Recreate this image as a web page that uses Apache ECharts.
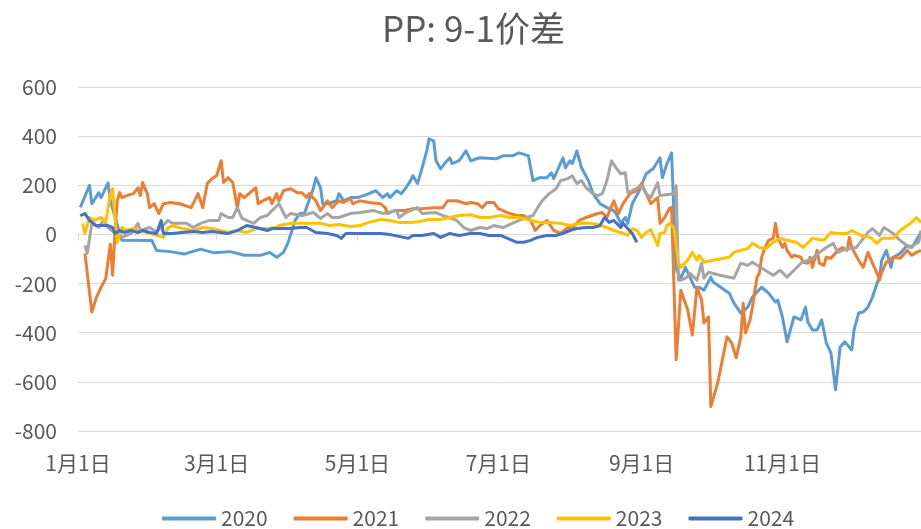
<!DOCTYPE html>
<html>
<head>
<meta charset="utf-8">
<title>PP: 9-1价差</title>
<script src="https://cdn.jsdelivr.net/npm/echarts@6/dist/echarts.min.js"></script>
<style>
  html, body { margin: 0; padding: 0; background: #fff; }
  #chart { width: 921px; height: 529px; }
</style>
</head>
<body>
<div id="chart"></div>
<script>
// ---------------------------------------------------
// Data (x = "MM-DD", y = spread)
// ---------------------------------------------------
const monthLengths = [31, 29, 31, 30, 31, 30, 31, 31, 30, 31, 30, 31];
const days = [];
monthLengths.forEach((len, m) => {
  for (let d = 1; d <= len; d++) {
    days.push(String(m + 1).padStart(2, "0") + "-" + String(d).padStart(2, "0"));
  }
});

const years = ["2020", "2021", "2022", "2023", "2024"];
const colors = ["#5B9BD5", "#ED7D31", "#A5A5A5", "#FFC000", "#4472C4"];

const s2020 = [
  ["01-02",110],["01-06",200],["01-07",125],["01-10",170],["01-11",150],["01-14",210],["01-15",137],["01-20",-24],
  ["02-02",-25],["02-04",-65],["02-10",-70],["02-16",-80],["02-23",-60],["02-29",-75],["03-07",-70],["03-13",-85],
  ["03-20",-85],["03-24",-73],["03-27",-93],["03-30",-73],["04-01",-32],["04-04",57],["04-06",85],["04-08",85],
  ["04-10",137],["04-12",190],["04-13",231],["04-15",190],["04-16",125],["04-18",125],["04-22",137],["04-23",166],
  ["04-25",137],["04-28",150],["05-01",150],["05-06",166],["05-09",178],["05-12",150],["05-14",166],["05-15",150],
  ["05-18",178],["05-20",166],["05-22",190],["05-24",219],["05-25",239],["05-27",207],["05-29",271],["05-31",340],
  ["06-01",389],["06-03",381],["06-04",300],["06-06",267],["06-08",292],["06-10",312],["06-11",288],["06-14",300],
  ["06-17",340],["06-19",300],["06-23",312],["06-30",308],["07-03",320],["07-07",320],["07-10",332],["07-14",320],
  ["07-16",219],["07-19",231],["07-22",231],["07-24",251],["07-25",227],["07-29",312],["07-30",271],["08-01",300],
  ["08-02",288],["08-04",340],["08-06",271],["08-09",219],["08-11",166],["08-14",125],["08-17",109],["08-20",97],
  ["08-21",85],["08-23",45],["08-25",69],["08-26",45],["08-28",125],["08-31",178],["09-03",247],["09-06",267],
  ["09-09",312],["09-10",231],["09-12",288],["09-14",332],["09-16",-140],["09-18",-180],["09-20",-134],["09-24",-215],
  ["09-26",-215],["09-28",-227],["10-01",-174],["10-02",-194],["10-09",-239],["10-11",-280],["10-14",-320],["10-17",-296],
  ["10-19",-255],["10-23",-215],["10-26",-239],["10-29",-275],["10-30",-267],["11-01",-336],["11-03",-437],["11-06",-336],
  ["11-09",-348],["11-11",-296],["11-12",-356],["11-14",-389],["11-16",-389],["11-18",-348],["11-20",-441],["11-22",-482],
  ["11-24",-632],["11-26",-458],["11-28",-437],["12-01",-470],["12-02",-389],["12-04",-320],["12-06",-316],["12-08",-296],
  ["12-10",-255],["12-12",-198],["12-13",-174],["12-14",-105],["12-16",-65],["12-18",-134],["12-19",-93],["12-22",-77],
  ["12-25",-45],["12-27",-53],["12-29",-24],["12-31",10]
];

const s2021 = [
  ["01-04",-77],["01-07",-316],["01-09",-255],["01-11",-215],["01-13",-180],["01-15",-40],["01-16",-166],["01-17",8],
  ["01-18",137],["01-19",170],["01-20",150],["01-22",158],["01-25",166],["01-27",190],["01-28",158],["01-29",211],
  ["01-31",166],["02-01",109],["02-03",125],["02-05",85],["02-07",125],["02-10",130],["02-14",125],["02-19",109],
  ["02-22",166],["02-24",109],["02-26",207],["02-28",227],["03-01",239],["03-03",300],["03-04",211],["03-06",231],
  ["03-08",211],["03-10",109],["03-11",166],["03-13",150],["03-15",166],["03-18",190],["03-19",125],["03-21",137],
  ["03-24",150],["03-25",125],["03-27",166],["03-28",137],["03-30",178],["04-02",186],["04-05",170],["04-07",170],
  ["04-09",150],["04-10",166],["04-13",137],["04-15",97],["04-18",137],["04-20",109],["04-23",137],["04-25",130],
  ["04-28",146],["04-29",125],["05-02",137],["05-06",130],["05-11",125],["05-13",109],["05-14",85],["05-17",97],
  ["05-21",97],["05-25",105],["05-29",105],["06-03",109],["06-07",109],["06-09",137],["06-13",137],["06-17",125],
  ["06-19",130],["06-22",125],["06-24",109],["06-26",130],["06-29",130],["07-01",105],["07-03",97],["07-06",85],
  ["07-09",77],["07-12",77],["07-15",57],["07-17",16],["07-19",36],["07-22",57],["07-25",16],["07-28",4],
  ["07-31",28],["08-02",24],["08-05",57],["08-08",69],["08-13",85],["08-15",89],["08-17",69],["08-20",137],
  ["08-22",85],["08-24",125],["08-27",166],["08-30",178],["09-01",207],["09-03",166],["09-05",125],["09-08",150],
  ["09-09",45],["09-11",69],["09-13",105],["09-14",110],["09-16",-510],["09-18",-227],["09-21",-308],["09-23",-409],
  ["09-25",-215],["09-27",-267],["09-28",-360],["09-30",-336],["10-01",-701],["10-04",-603],["10-06",-510],["10-08",-417],
  ["10-10",-441],["10-12",-502],["10-14",-417],["10-15",-280],["10-16",-401],["10-18",-348],["10-19",-296],["10-21",-174],
  ["10-22",-158],["10-23",-93],["10-24",-65],["10-26",-24],["10-28",-16],["10-29",45],["10-30",-12],["11-01",-53],
  ["11-02",-36],["11-03",-65],["11-05",-93],["11-06",-85],["11-09",-93],["11-10",-113],["11-12",-117],["11-13",-93],
  ["11-14",-134],["11-16",-65],["11-17",-117],["11-19",-126],["11-20",-93],["11-22",-97],["11-25",-65],["11-27",-53],
  ["11-29",-65],["11-30",-12],["12-01",-53],["12-04",-105],["12-06",-134],["12-08",-73],["12-10",-117],["12-12",-158],
  ["12-13",-186],["12-14",-154],["12-16",-113],["12-19",-93],["12-22",-97],["12-25",-65],["12-27",-85],["12-29",-73],
  ["12-31",-65]
];

const s2022 = [
  ["01-04",-45],["01-05",-77],["01-07",45],["01-10",28],["01-12",57],["01-14",28],["01-17",5],["01-20",-12],
  ["01-24",4],["01-27",45],["01-28",16],["02-01",28],["02-04",10],["02-09",57],["02-11",45],["02-17",45],
  ["02-20",28],["02-23",45],["02-27",57],["03-02",57],["03-03",85],["03-06",69],["03-08",69],["03-10",109],
  ["03-12",65],["03-14",57],["03-17",45],["03-20",69],["03-23",77],["03-25",97],["03-28",125],["03-31",69],
  ["04-02",85],["04-07",77],["04-12",89],["04-15",65],["04-18",85],["04-20",69],["04-23",69],["04-28",85],
  ["05-02",89],["05-08",97],["05-12",85],["05-18",97],["05-19",69],["05-22",89],["05-27",109],["05-29",85],
  ["06-04",89],["06-07",77],["06-13",57],["06-16",28],["06-19",16],["06-23",28],["06-26",24],["06-29",36],
  ["07-03",28],["07-07",45],["07-10",57],["07-13",69],["07-16",77],["07-18",109],["07-20",137],["07-23",166],
  ["07-26",186],["07-28",219],["07-31",227],["08-02",239],["08-04",207],["08-06",219],["08-08",190],["08-11",166],
  ["08-13",158],["08-15",166],["08-17",219],["08-19",300],["08-21",271],["08-23",247],["08-25",251],["08-26",170],
  ["08-28",178],["09-01",198],["09-03",166],["09-05",150],["09-08",211],["09-09",158],["09-15",166],["09-16",198],
  ["09-17",-186],["09-18",-186],["09-20",-178],["09-22",-158],["09-25",-186],["09-27",-117],["09-28",-178],["09-30",-154],
  ["10-05",-166],["10-11",-178],["10-14",-117],["10-17",-126],["10-19",-113],["10-28",-166],["10-31",-146],["11-03",-174],
  ["11-06",-146],["11-09",-117],["11-14",-97],["11-17",-73],["11-20",-53],["11-23",-36],["11-25",-73],["11-27",-65],
  ["11-30",-57],["12-03",-53],["12-08",8],["12-10",24],["12-13",-4],["12-15",28],["12-19",4],["12-21",-16],
  ["12-23",-32],["12-26",-53],["12-30",-32],["12-31",16]
];

const s2023 = [
  ["01-03",45],["01-04",4],["01-06",69],["01-08",57],["01-11",69],["01-13",49],["01-15",166],["01-16",186],
  ["01-17",69],["01-18",-32],["01-20",28],["01-22",16],["01-25",24],["01-31",8],["02-07",-12],["02-09",28],
  ["02-11",36],["02-15",24],["02-20",16],["02-24",28],["02-28",24],["03-06",8],["03-10",16],["03-14",8],
  ["03-18",24],["03-23",24],["03-27",28],["03-28",36],["04-02",45],["04-10",45],["04-15",45],["04-19",36],
  ["04-23",40],["04-28",32],["05-02",36],["05-06",49],["05-11",61],["05-15",57],["05-19",49],["05-24",49],
  ["05-28",53],["06-01",61],["06-06",61],["06-10",69],["06-14",77],["06-19",80],["06-23",69],["06-27",69],
  ["07-02",77],["07-06",69],["07-10",69],["07-15",57],["07-19",49],["07-23",49],["07-28",45],["08-01",36],
  ["08-05",45],["08-10",45],["08-14",38],["08-17",28],["08-20",16],["08-23",8],["08-26",-4],["08-28",24],
  ["08-30",16],["09-01",-12],["09-03",8],["09-05",20],["09-08",-45],["09-09",4],["09-11",8],["09-12",36],
  ["09-13",45],["09-15",28],["09-17",-117],["09-18",-134],["09-21",-105],["09-23",-73],["09-25",-105],["09-26",-85],
  ["09-28",-113],["10-02",-105],["10-09",-93],["10-11",-73],["10-14",-65],["10-17",-57],["10-19",-36],["10-22",-53],
  ["10-25",-57],["10-28",-32],["10-31",-16],["11-03",-24],["11-07",-32],["11-10",-53],["11-14",-16],["11-19",-24],
  ["11-22",8],["11-25",4],["11-29",4],["12-01",16],["12-05",-4],["12-09",-12],["12-12",-36],["12-14",-16],
  ["12-19",-16],["12-22",16],["12-25",36],["12-27",49],["12-29",69],["12-31",49]
];

const s2024 = [
  ["01-02",77],["01-04",85],["01-06",57],["01-09",36],["01-14",36],["01-16",28],["01-17",4],["01-19",16],
  ["01-21",8],["01-24",16],["01-27",8],["01-29",16],["02-01",8],["02-04",4],["02-06",57],["02-07",4],
  ["02-11",4],["02-15",8],["02-20",12],["02-24",8],["02-28",12],["03-06",4],["03-10",16],["03-14",36],
  ["03-18",28],["03-23",16],["03-25",24],["03-28",24],["04-02",24],["04-06",28],["04-09",28],["04-13",8],
  ["04-18",4],["04-22",-4],["04-24",-16],["04-26",4],["05-01",4],["05-06",4],["05-11",4],["05-15",0],
  ["05-21",-12],["05-23",-16],["05-25",-4],["05-29",-4],["06-03",4],["06-06",-12],["06-10",4],["06-14",-4],
  ["06-19",4],["06-23",4],["06-27",-4],["07-02",-4],["07-05",-16],["07-09",-32],["07-12",-32],["07-15",-24],
  ["07-18",-12],["07-22",-4],["07-26",-4],["07-29",4],["08-01",16],["08-04",24],["08-08",28],["08-11",28],
  ["08-14",36],["08-16",69],["08-18",49],["08-20",57],["08-23",28],["08-24",45],["08-26",24],["08-28",4],
  ["08-30",-32]
];

const seriesData = [s2020, s2021, s2022, s2023, s2024];

// ---------------------------------------------------
// Helpers
// ---------------------------------------------------
const textColor = "#595959";
const gridColor = "#D9D9D9";
const font = "'Noto Sans CJK SC', 'Noto Sans', sans-serif";

const isLabelDay = (i, v) => v.endsWith("-01") && Number(v.slice(0, 2)) % 2 === 1;
const toCnDate = v => `${Number(v.slice(0, 2))}月${Number(v.slice(3))}日`;

// ---------------------------------------------------
// Chart
// ---------------------------------------------------
const chart = echarts.init(document.getElementById("chart"));

chart.setOption({
  animation: false,
  backgroundColor: "#fff",
  textStyle: { fontFamily: font },
  title: {
    text: "PP: 9-1价差",
    left: 382,
    top: 11,
    padding: 0,
    textStyle: { color: textColor, fontSize: 35, fontWeight: "normal", fontFamily: font }
  },
  grid: { left: 78, right: 0, top: 87, bottom: 98, containLabel: false },
  legend: {
    data: years,
    icon: "roundRect",
    left: 162,
    top: 508,
    padding: 0,
    itemWidth: 54,
    itemHeight: 4,
    itemGap: 26,
    textStyle: { color: textColor, fontSize: 21, fontFamily: font }
  },
  xAxis: [
    {
      type: "category",
      data: days,
      boundaryGap: false,
      axisLine: { show: false, onZero: false },
      axisTick: { show: false },
      splitLine: { show: false },
      axisLabel: {
        interval: isLabelDay,
        formatter: toCnDate,
        color: textColor,
        fontSize: 21,
        margin: 22,
        fontFamily: font
      }
    },
    {
      // zero line with tick marks
      type: "category",
      data: days,
      position: "top",
      boundaryGap: false,
      axisLine: { show: true, onZero: true, lineStyle: { color: gridColor, width: 1 } },
      axisTick: { show: true, inside: true, length: 6, interval: isLabelDay, lineStyle: { color: gridColor } },
      axisLabel: { show: false },
      splitLine: { show: false }
    }
  ],
  yAxis: {
    type: "value",
    min: -800,
    max: 600,
    interval: 200,
    axisLine: { show: false },
    axisTick: { show: false },
    axisLabel: { color: textColor, fontSize: 21, margin: 21, fontFamily: font },
    splitLine: { lineStyle: { color: gridColor, width: 1 } }
  },
  series: years.map((y, i) => ({
    name: y,
    type: "line",
    data: seriesData[i],
    symbol: "none",
    showSymbol: false,
    smooth: false,
    color: colors[i],
    lineStyle: { width: 3, color: colors[i], join: "round" }
  }))
});

window.addEventListener("resize", chart.resize);
</script>
</body>
</html>
